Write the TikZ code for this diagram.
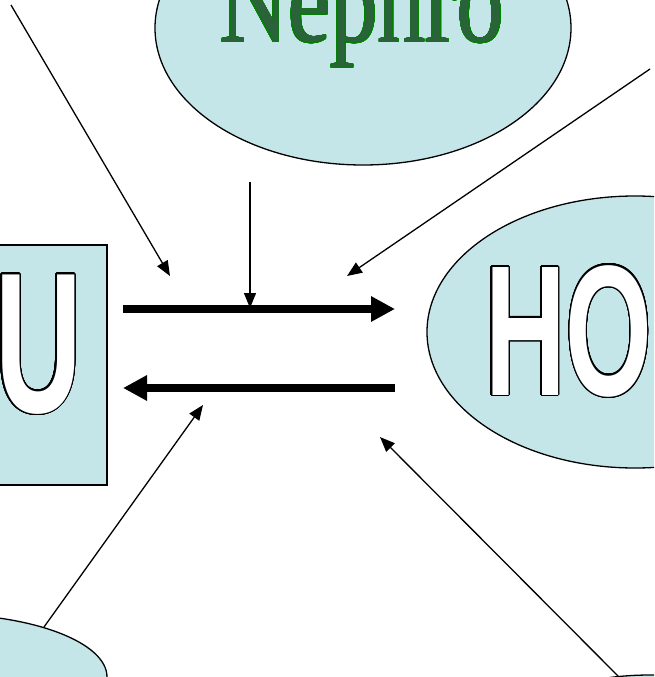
\documentclass[tikz,border=0pt]{standalone}
\usepackage{fontspec}
\usepackage{graphicx}
\usepackage[copies]{contour}
\usetikzlibrary{arrows.meta,shapes.geometric}
\newfontfamily\serifA{Liberation Serif}
\newfontfamily\sansB{Liberation Sans}
\definecolor{pale}{RGB}{197,230,233}
\definecolor{nephfill}{RGB}{42,98,58}
\definecolor{nephline}{RGB}{0,130,0}
\contournumber{32}
\tikzset{
  blob/.style={ellipse, draw=black, fill=pale, line width=1.3pt, inner sep=0pt},
  boxA/.style={rectangle, draw=black, fill=pale, line width=1.3pt, inner sep=0pt},
  thick arrow/.style={line width=8pt, -{Triangle[length=24pt,width=24pt]}},
  thin arrow/.style={line width=1.3pt, -{Triangle[length=15pt,width=12pt]}},
  word/.style={anchor=base west, inner sep=0pt, outer sep=0pt}
}
\begin{document}
\begin{tikzpicture}[x=1pt,y=-1pt]
\useasboundingbox (0,0) rectangle (654,677);
\clip (0,0) rectangle (654,677);
% shapes
\node[blob, minimum width=416pt, minimum height=274pt] (top) at (363,28) {};
\node[blob, minimum width=416pt, minimum height=272pt] (right) at (635,332) {};
\node[boxA, minimum width=122pt, minimum height=240pt] (left) at (46,365) {};
\node[blob, minimum width=334pt, minimum height=126pt] (botleft) at (-60,677) {};
\node[blob, minimum width=416pt, minimum height=270pt] (botright) at (650,810) {};
% texts
\node[word] (neph) at (220,42) {\contourlength{0.9pt}\fontsize{120pt}{130pt}\serifA\contour{nephline}{\scalebox{0.79}[1]{\color{nephfill}Nephro}}};
\node[word] (ho) at (485,395) {\contourlength{1.4pt}\fontsize{186pt}{190pt}\sansB\bfseries\contour{black}{\scalebox{0.6}[1]{\color{white}HO}}};
\node[word] (u) at (-5,412) {\contourlength{1.4pt}\fontsize{200pt}{200pt}\sansB\bfseries\contour{black}{\scalebox{0.6}[1]{\color{white}U}}};
% connector end points
\coordinate (f1a) at (123,309);
\coordinate (f1b) at (395,309);
\coordinate (f2a) at (395,388);
\coordinate (f2b) at (123,388);
\coordinate (s1) at (11,5);
\coordinate (e1) at (170,276);
\coordinate (s2) at (250,182);
\coordinate (e2) at (250,308);
\coordinate (s3) at (650,69);
\coordinate (e3) at (347,276);
\coordinate (s4) at (44,627);
\coordinate (e4) at (203,405);
\coordinate (s5) at (622,680);
\coordinate (e5) at (380,437);
% arrows
\draw[thick arrow] (f1a) -- (f1b);
\draw[thick arrow] (f2a) -- (f2b);
\draw[thin arrow] (s1) -- (e1);
\draw[thin arrow] (s2) -- (e2);
\draw[thin arrow] (s3) -- (e3);
\draw[thin arrow] (s4) -- (e4);
\draw[thin arrow] (s5) -- (e5);
\end{tikzpicture}
\end{document}
